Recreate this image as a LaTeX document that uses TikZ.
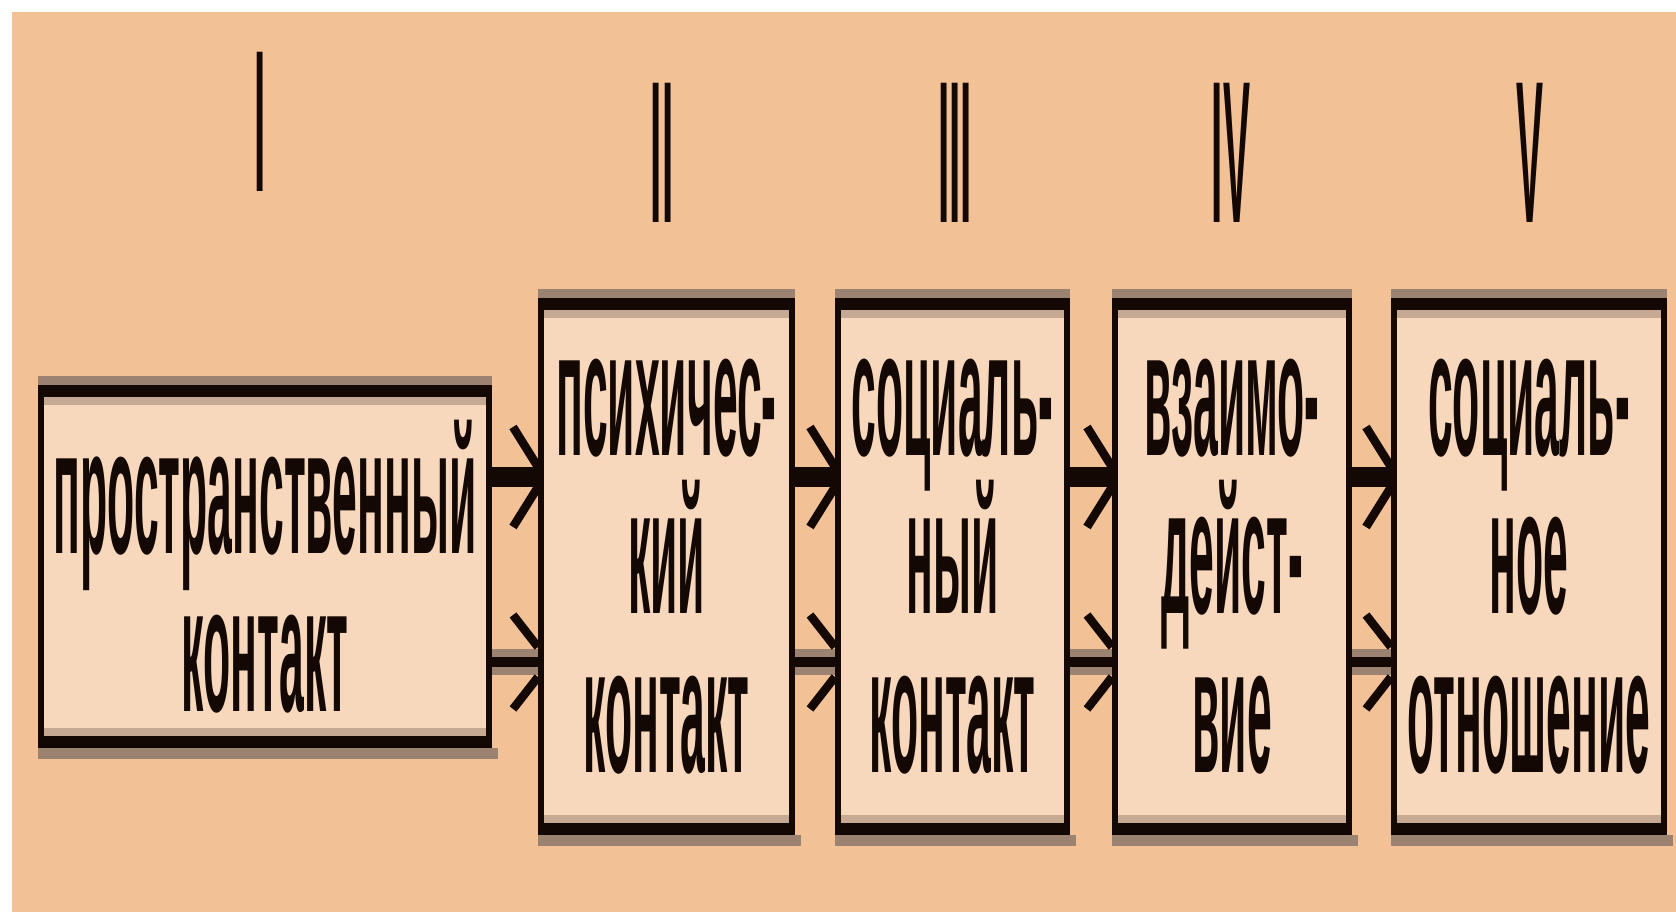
\documentclass[tikz,border=0pt]{standalone}
\usepackage{fontspec}
\setmainfont{Liberation Sans}
\usetikzlibrary{calc}
\definecolor{bg}{HTML}{F2C196}
\definecolor{boxfill}{HTML}{F8D8BC}
\definecolor{ink}{HTML}{140805}
\definecolor{band}{HTML}{9C8270}
\newcommand\lbl[1]{\scalebox{1.265}[5.1]{\bfseries #1}}
\newcommand\rom[1]{\scalebox{1.15}[5.76]{\bfseries #1}}
\lineskiplimit=-100pt
\begin{document}
\begin{tikzpicture}[x=0.1mm,y=-0.1mm,
  stage/.style={draw=ink, line width=0.6mm, fill=boxfill, inner sep=0pt,
    align=center, text=ink, font=\fontsize{10}{45}\selectfont},
  numeral/.style={anchor=base, inner sep=0pt, text=ink},
  shaftA/.style={draw=ink, line width=2mm},
  shaftB/.style={draw=ink, line width=1mm},
  shaftG/.style={draw=band, line width=2.6mm},
  barb/.style={draw=ink, line width=0.85mm, line cap=butt}
]
\useasboundingbox (0,0) rectangle (1676,912);
\fill[white] (0,0) rectangle (1676,912);
\fill[bg] (12,12) rectangle (1676,912);

% numerals
\node[numeral] (n1) at (260,192) {\rom{I}};
\node[numeral] (n2) at (662,223) {\rom{II}};
\node[numeral] (n3) at (955,223) {\rom{III}};
\node[numeral] (n4) at (1231,223) {\rom{IV}};
\node[numeral] (n5) at (1530,223) {\rom{V}};

% boxes
\node[stage, minimum width=44.8mm, minimum height=35.7mm] (b1) at (265,566.5)
  {\lbl{пространственный}\\\lbl{контакт}};
\node[stage, minimum width=25.1mm, minimum height=53.1mm] (b2) at (666.5,566.5)
  {\lbl{психичес-}\\\lbl{кий}\\\lbl{контакт}};
\node[stage, minimum width=22.9mm, minimum height=53.1mm] (b3) at (952.5,566.5)
  {\lbl{социаль-}\\\lbl{ный}\\\lbl{контакт}};
\node[stage, minimum width=23.4mm, minimum height=53.1mm] (b4) at (1232,566.5)
  {\lbl{взаимо-}\\\lbl{дейст-}\\\lbl{вие}};
\node[stage, minimum width=27.0mm, minimum height=53.1mm] (b5) at (1529,566.5)
  {\lbl{социаль-}\\\lbl{ное}\\\lbl{отношение}};

% thick top and bottom edges with soft bands
\foreach \b in {b1,b2,b3,b4,b5}{
  \fill[band] ([yshift=0.9mm]\b.north west) rectangle (\b.north east);
  \fill[ink] (\b.north west) rectangle ([yshift=-1.2mm]\b.north east);
  \fill[band!55!boxfill] ([xshift=0.6mm,yshift=-1.2mm]\b.north west) rectangle ([xshift=-0.6mm,yshift=-2mm]\b.north east);
  \fill[band!55!boxfill] ([xshift=0.6mm,yshift=1.2mm]\b.south west) rectangle ([xshift=-0.6mm,yshift=2mm]\b.south east);
  \fill[ink] ([yshift=1.2mm]\b.south west) rectangle (\b.south east);
  \fill[band] (\b.south west) rectangle ([xshift=0.6mm,yshift=-1.1mm]\b.south east);
}

% arrows
\foreach \a/\b in {b1/b2,b2/b3,b3/b4,b4/b5}{
  \draw[shaftA] ([yshift=8.95mm]\a.east) -- ([yshift=8.95mm]\b.west);
  \draw[barb] ([yshift=9.95mm]\b.west) -- ++(-25,-40);
  \draw[barb] ([yshift=7.95mm]\b.west) -- ++(-25,40);
  \draw[shaftG] ([yshift=-9.55mm]\a.east) -- ([yshift=-9.55mm]\b.west);
  \draw[shaftB] ([yshift=-9.55mm]\a.east) -- ([yshift=-9.55mm]\b.west);
  \draw[barb] ([yshift=-8.05mm]\b.west) -- ++(-25,-32);
  \draw[barb] ([yshift=-11.05mm]\b.west) -- ++(-25,32);
}
\end{tikzpicture}
\end{document}
